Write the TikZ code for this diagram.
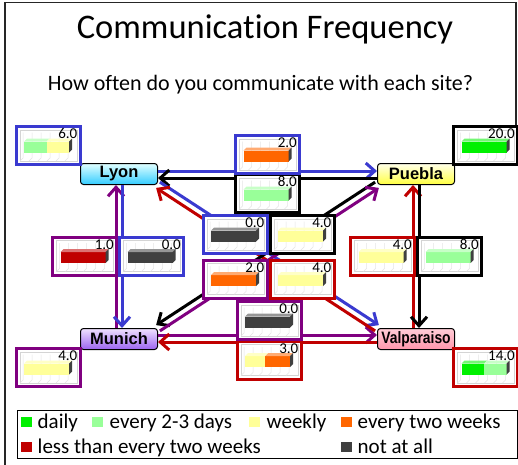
\documentclass[tikz,border=0pt]{standalone}
\usepackage{fontspec}
\usepackage{graphicx}
\setmainfont{Carlito}[Ligatures=NoCommon]
\newfontfamily\arialf{Liberation Sans}
\usetikzlibrary{arrows.meta,calc,backgrounds}
\definecolor{cblue}{HTML}{3A3AD0}
\definecolor{cpurple}{HTML}{800080}
\definecolor{cred}{HTML}{C00000}
\definecolor{dgreen}{HTML}{00F000}
\definecolor{lgreen}{HTML}{99FF99}
\definecolor{cyellow}{HTML}{FFFF99}
\definecolor{corange}{HTML}{FF6600}
\definecolor{cdark}{HTML}{404040}
\definecolor{gridc}{HTML}{D4D4D4}

\newcommand\Chart[5]{%
  \node[chartbox, draw=#3] (#1) at (#2) {};
  \begin{scope}[shift={(#1.center)}]
    \draw[gridc, line width=0.6pt] (-28,-15.5) rectangle (29,15.5);
    \foreach \gx in {-25,-16,-7,2,11,20} {
      \draw[gridc!60!white, line width=0.5pt] (\gx,-13) -- (\gx,12.5) -- (\gx-3,15.5);
    }
    \foreach \c/\a/\b in {#5} {
      \fill[\c] ({-24+45*\a},-4) rectangle ({-24+45*\b},7);
      \fill[\c!55!white] ({-24+45*\a},-4) -- ({-21+45*\a},-7) -- ({-21+45*\b},-7) -- ({-24+45*\b},-4) -- cycle;
    }
    \fill[black!75] (21,-4) -- (24,-7) -- (24,4) -- (21,7) -- cycle;
    \node[vallabel] (#1v) at (29.5,-7) {#4};
  \end{scope}
}

\begin{document}
\begin{tikzpicture}[x=1pt,y=-1pt,
  site/.style={draw=black, line width=1pt, rounded corners=3pt, minimum width=77pt, minimum height=21pt, inner sep=0pt, font=\arialf\bfseries\fontsize{16.5}{16.5}\selectfont},
  chartbox/.style={line width=3pt, fill=white, minimum width=64pt, minimum height=38pt, inner sep=0pt},
  vallabel/.style={anchor=base east, inner sep=0pt, font=\fontsize{15}{15}\selectfont},
  conn/.style={line width=3pt, -{Straight Barb[length=9pt,width=16pt]}},
  loopc/.style={line width=3pt},
  sq/.style={minimum width=11pt, minimum height=10pt, inner sep=0pt},
  legtext/.style={anchor=base west, inner sep=0pt, font=\fontsize{21}{21}\selectfont}
]
\useasboundingbox (0,0) rectangle (518,464);
\fill[white] (0,0) rectangle (518,464);
\draw[black!85, line width=1.2pt] (5,470) -- (5,2.5) -- (516,2.5) -- (516,125);

\node[anchor=base, inner sep=0pt, font=\fontsize{34.5}{34.5}\selectfont] (title) at (265,38) {Communication Frequency};
\node[anchor=base, inner sep=0pt, font=\fontsize{22}{22}\selectfont] (subtitle) at (260.5,90) {How often do you communicate with each site?};

% sites
\node[site, top color=cyan!12!white, bottom color={rgb,255:red,51;green,204;blue,255}] (Lyon) at (119,174) {Lyon};
\node[site, top color=yellow!8!white, bottom color={rgb,255:red,255;green,255;blue,64}] (Puebla) at (416,174) {Puebla};
\node[site, top color={rgb,255:red,240;green,226;blue,255}, bottom color={rgb,255:red,155;green,100;blue,240}] (Munich) at (119,339) {Munich};
\node[site, top color={rgb,255:red,255;green,205;blue,215}, bottom color={rgb,255:red,255;green,150;blue,172}] (Valp) at (416,339) {\scalebox{0.84}[1]{Valparaiso}};

% self loops
\begin{pgfonlayer}{background}
\draw[loopc, cblue] ($(Lyon.north west)+(-2.5,-3.5)$) circle (18);
\draw[loopc, black] ($(Puebla.north east)+(4.5,-3.5)$) circle (18);
\draw[loopc, cpurple] ($(Munich.south west)+(-2.5,0.5)$) circle (18);
\draw[loopc, cred] ($(Valp.south east)+(4.5,0.5)$) circle (18);
\end{pgfonlayer}

% Lyon - Puebla
\draw[conn, cblue] ($(Lyon.east)+(0,-3)$) -- ($(Puebla.west)+(0,-3)$);
\draw[conn, black] ($(Puebla.west)+(0,4)$) -- ($(Lyon.east)+(0,4)$);
% Lyon - Munich
\draw[conn, cpurple] ($(Munich.north)+(-3,0)$) -- ($(Lyon.south)+(-3,0)$);
\draw[conn, cblue] ($(Lyon.south)+(3,0)$) -- ($(Munich.north)+(3,0)$);
% Puebla - Valparaiso
\draw[conn, cred] ($(Valp.north)+(-3,0)$) -- ($(Puebla.south)+(-3,0)$);
\draw[conn, black] ($(Puebla.south)+(3,0)$) -- ($(Valp.north)+(3,0)$);
% Munich - Valparaiso
\draw[conn, cpurple] ($(Munich.east)+(0,-4)$) -- ($(Valp.west)+(0,-4)$);
\draw[conn, cred] ($(Valp.west)+(0,3)$) -- ($(Munich.east)+(0,3)$);
% Lyon - Valparaiso
\draw[conn, cblue] ($(Lyon.south east)+(1.9,-2.9)$) -- ($(Valp.north west)+(1.9,-2.9)$);
\draw[conn, cred] ($(Valp.north west)+(-1.9,2.9)$) -- ($(Lyon.south east)+(-1.9,2.9)$);
% Puebla - Munich
\draw[conn, black] ($(Puebla.south west)+(-1.9,-2.9)$) -- ($(Munich.north east)+(-1.9,-2.9)$);
\draw[conn, cpurple] ($(Munich.north east)+(1.9,2.9)$) -- ($(Puebla.south west)+(1.9,2.9)$);

% charts
\Chart{cLs}{48,145.5}{cblue}{6.0}{lgreen/0/0.5,cyellow/0.5/1}
\Chart{cPs}{485.5,145.5}{black}{20.0}{dgreen/0/1}
\Chart{cMs}{48,367.5}{cpurple}{4.0}{cyellow/0/1}
\Chart{cVs}{485.5,367.5}{cred}{14.0}{dgreen/0/0.5,lgreen/0.5/1}

\Chart{cPL}{267.5,193.5}{black}{8.0}{lgreen/0/1}
\Chart{cLP}{267.5,154.5}{cblue}{2.0}{corange/0/1}

\Chart{cLV}{235,234.5}{cblue}{0.0}{cdark/0/1}
\Chart{cPM}{302,234.5}{black}{4.0}{cyellow/0/1}
\Chart{cMP}{235,279}{cpurple}{2.0}{corange/0/1}
\Chart{cVL}{302,279}{cred}{4.0}{cyellow/0/1}

\Chart{cVM}{269,360}{cred}{3.0}{cyellow/0/0.45,corange/0.45/1}
\Chart{cMV}{269,320.5}{cpurple}{0.0}{cdark/0/1}

\Chart{cML}{84.5,256}{cpurple}{1.0}{cred/0/1}
\Chart{cLM}{151.5,256}{cblue}{0.0}{cdark/0/1}
\Chart{cVP}{382.5,256}{cred}{4.0}{cyellow/0/1}
\Chart{cPV}{449.5,256}{black}{8.0}{lgreen/0/1}

% legend
\node[draw=black, line width=0.8pt, minimum width=500pt, minimum height=48pt, inner sep=0pt, anchor=north west] (legend) at (17,410) {};
\node[sq, fill=dgreen] (k1) at (26.5,422) {};
\node[legtext] (t1) at (37.5,428.5) {daily};
\node[sq, fill=lgreen] (k2) at (97,422) {};
\node[legtext] (t2) at (109.5,428.5) {every 2-3 days};
\node[sq, fill=cyellow] (k3) at (254.5,422) {};
\node[legtext] (t3) at (266.5,428.5) {weekly};
\node[sq, fill=corange] (k4) at (346.5,422) {};
\node[legtext] (t4) at (357.5,428.5) {every two weeks};
\node[sq, fill=cred] (k5) at (26.5,447) {};
\node[legtext] (t5) at (37.5,453.5) {less than every two weeks};
\node[sq, fill=cdark] (k6) at (346.5,447) {};
\node[legtext] (t6) at (357.5,453.5) {not at all};
\end{tikzpicture}
\end{document}
